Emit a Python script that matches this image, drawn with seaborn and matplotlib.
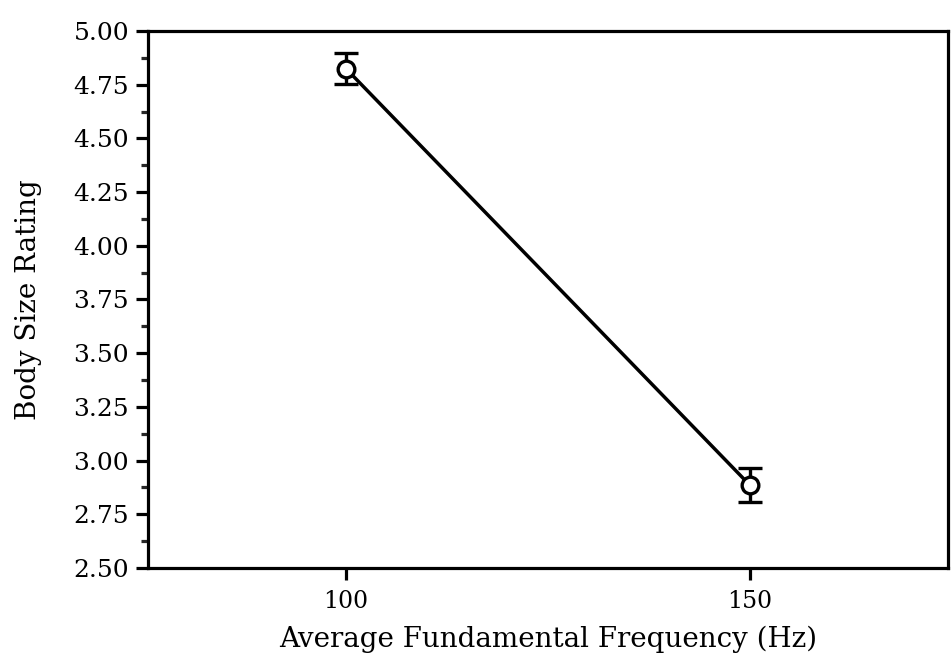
import matplotlib
matplotlib.use("Agg")
import matplotlib.pyplot as plt
import pandas as pd
import numpy as np
import seaborn as sns
from matplotlib.ticker import MultipleLocator, FormatStrFormatter

# data
freq = [100, 150]
rating = [4.825, 2.885]
err = [0.072, 0.079]

df = pd.DataFrame({'freq': freq, 'rating': rating, 'err': err})

sns.set_style("ticks")
plt.rcParams['font.family'] = ['DejaVu Serif']
plt.rcParams.update({'font.size': 17, 'text.color': 'black',
                     'axes.labelcolor': 'black'})

fig = plt.figure(figsize=(9.51, 6.64), dpi=100)
ax = fig.add_axes([0.1556, 0.1446, 0.8412, 0.8087])

ax.errorbar(df['freq'], df['rating'], yerr=df['err'], fmt='none', ecolor='black',
            elinewidth=2.4, capsize=8.5, capthick=2.4, zorder=2)
sns.lineplot(data=df, x='freq', y='rating', ax=ax, color='black', linewidth=2.5,
             marker='o', markersize=12, markerfacecolor='white',
             markeredgecolor='black', markeredgewidth=2.4, zorder=3)

ax.set_xlim(75.5, 174.5)
ax.set_ylim(2.5, 5.0)
ax.set_xticks([100, 150])
ax.yaxis.set_major_locator(MultipleLocator(0.25))
ax.yaxis.set_minor_locator(MultipleLocator(0.125))
ax.yaxis.set_major_formatter(FormatStrFormatter('%.2f'))

for s in ax.spines.values():
    s.set_linewidth(2.3)
    s.set_visible(True)
    s.set_color('black')
ax.tick_params(axis='both', which='major', length=8.6, width=2.3, direction='out',
               colors='black', top=False, right=False)
ax.tick_params(axis='y', which='major', labelsize=18, pad=5)
ax.tick_params(axis='x', which='major', labelsize=17, pad=7)
ax.tick_params(axis='y', which='minor', length=5, width=2.3, direction='out')
ax.tick_params(axis='x', which='minor', bottom=False)

ax.set_xlabel('Average Fundamental Frequency (Hz)', fontsize=20, labelpad=9)
ax.set_ylabel('Body Size Rating', fontsize=20, labelpad=23)

fig.savefig('out.png', dpi=100)
